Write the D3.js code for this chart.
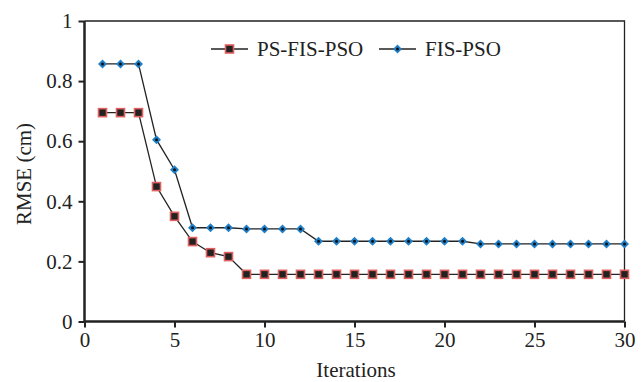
<!DOCTYPE html>
<html>
<head>
<meta charset="utf-8">
<script src="https://cdn.jsdelivr.net/npm/d3@7"></script>
<style>
  html, body { margin: 0; padding: 0; background: #fff; }
  svg text { font-family: "Liberation Serif", "DejaVu Serif", serif; fill: #222; }
</style>
</head>
<body>
<svg id="chart" width="644" height="382"></svg>
<script>
// data
var iterations = d3.range(1, 31)
var psFisPso = [0.695, 0.695, 0.695, 0.449, 0.35, 0.266, 0.229, 0.216,
  0.157, 0.157, 0.157, 0.157, 0.157, 0.157, 0.157, 0.157, 0.157, 0.157,
  0.157, 0.157, 0.157, 0.157, 0.157, 0.157, 0.157, 0.157, 0.157, 0.157, 0.157, 0.157]
var fisPso = [0.857, 0.857, 0.857, 0.605, 0.505, 0.312, 0.312, 0.312,
  0.308, 0.308, 0.308, 0.308, 0.267, 0.267, 0.267, 0.267, 0.267, 0.267,
  0.267, 0.267, 0.267, 0.258, 0.258, 0.258, 0.258, 0.258, 0.258, 0.258, 0.258, 0.258]
var xTicks = [0, 5, 10, 15, 20, 25, 30]
var yTicks = [0, 0.2, 0.4, 0.6, 0.8, 1]
var seriesNames = ['PS-FIS-PSO', 'FIS-PSO']

var svg = d3.select('#chart')
var plotLeft = 84.5, plotRight = 624.5, plotTop = 21, plotBottom = 321.5
var fontSize = '21px'

var x = d3.scaleLinear().domain([0, 30]).range([plotLeft, plotRight])
var y = d3.scaleLinear().domain([0, 1]).range([plotBottom, plotTop])

// frame: thin top/right
svg.append('path')
  .attr('d', `M${plotLeft},${plotTop}H${plotRight}V${plotBottom}`)
  .attr('fill', 'none').attr('stroke', '#222').attr('stroke-width', 1.3)

var xAxis = svg.append('g')
  .attr('transform', `translate(0,${plotBottom})`)
  .call(d3.axisBottom(x).tickValues(xTicks).tickSize(6).tickPadding(5).tickFormat(d3.format('d')))
var yAxis = svg.append('g')
  .attr('transform', `translate(${plotLeft},0)`)
  .call(d3.axisLeft(y).tickValues(yTicks).tickSize(6).tickPadding(6).tickFormat(d => d === 0 || d === 1 ? d : d3.format('.1f')(d)))

;[xAxis, yAxis].forEach(function(a) {
  a.select('.domain').attr('stroke', '#222').attr('stroke-width', 2.5)
  a.selectAll('.tick line').attr('stroke', '#222').attr('stroke-width', 2)
  a.selectAll('.tick text').style('font-size', fontSize).attr('fill', '#222')
})
xAxis.select('.domain').attr('d', `M${plotLeft},0H${plotRight}`)
yAxis.select('.domain').attr('d', `M0,${plotBottom}V${plotTop}`)

svg.append('text')
  .attr('x', 356).attr('y', 377)
  .attr('text-anchor', 'middle')
  .style('font-size', fontSize)
  .text('Iterations')

svg.append('text')
  .attr('transform', 'translate(31,174) rotate(-90)')
  .attr('text-anchor', 'middle')
  .style('font-size', fontSize)
  .text('RMSE (cm)')

var line = d3.line().x((d, i) => x(iterations[i])).y(d => y(d))

function squareMark(g, cx, cy) {
  g.append('rect').attr('x', cx - 4).attr('y', cy - 4).attr('width', 8).attr('height', 8)
    .attr('fill', '#222').attr('stroke', '#e06060').attr('stroke-width', 1.6)
}
function diamondMark(g, cx, cy) {
  g.append('path')
    .attr('d', `M${cx},${cy - 4.5}L${cx + 4.5},${cy}L${cx},${cy + 4.5}L${cx - 4.5},${cy}Z`)
    .attr('fill', '#1f7fc8')
  g.append('circle').attr('cx', cx).attr('cy', cy).attr('r', 1.5).attr('fill', '#111')
}

svg.append('path').datum(fisPso).attr('d', line)
  .attr('fill', 'none').attr('stroke', '#222').attr('stroke-width', 1.3)
svg.append('path').datum(psFisPso).attr('d', line)
  .attr('fill', 'none').attr('stroke', '#222').attr('stroke-width', 1.3)

var marks = svg.append('g')
fisPso.forEach((d, i) => diamondMark(marks, x(iterations[i]), y(d)))
psFisPso.forEach((d, i) => squareMark(marks, x(iterations[i]), y(d)))

// legend
var legend = svg.append('g')
var legendX = [211, 379]
seriesNames.forEach(function(name, i) {
  var lx = legendX[i], ly = 49
  legend.append('line').attr('x1', lx).attr('x2', lx + 37).attr('y1', ly).attr('y2', ly)
    .attr('stroke', '#222').attr('stroke-width', 1.3)
  if (i === 0) squareMark(legend, lx + 18.5, ly)
  else diamondMark(legend, lx + 18.5, ly)
  legend.append('text').attr('x', lx + 46).attr('y', ly + 7)
    .style('font-size', fontSize).text(name)
})
</script>
</body>
</html>
